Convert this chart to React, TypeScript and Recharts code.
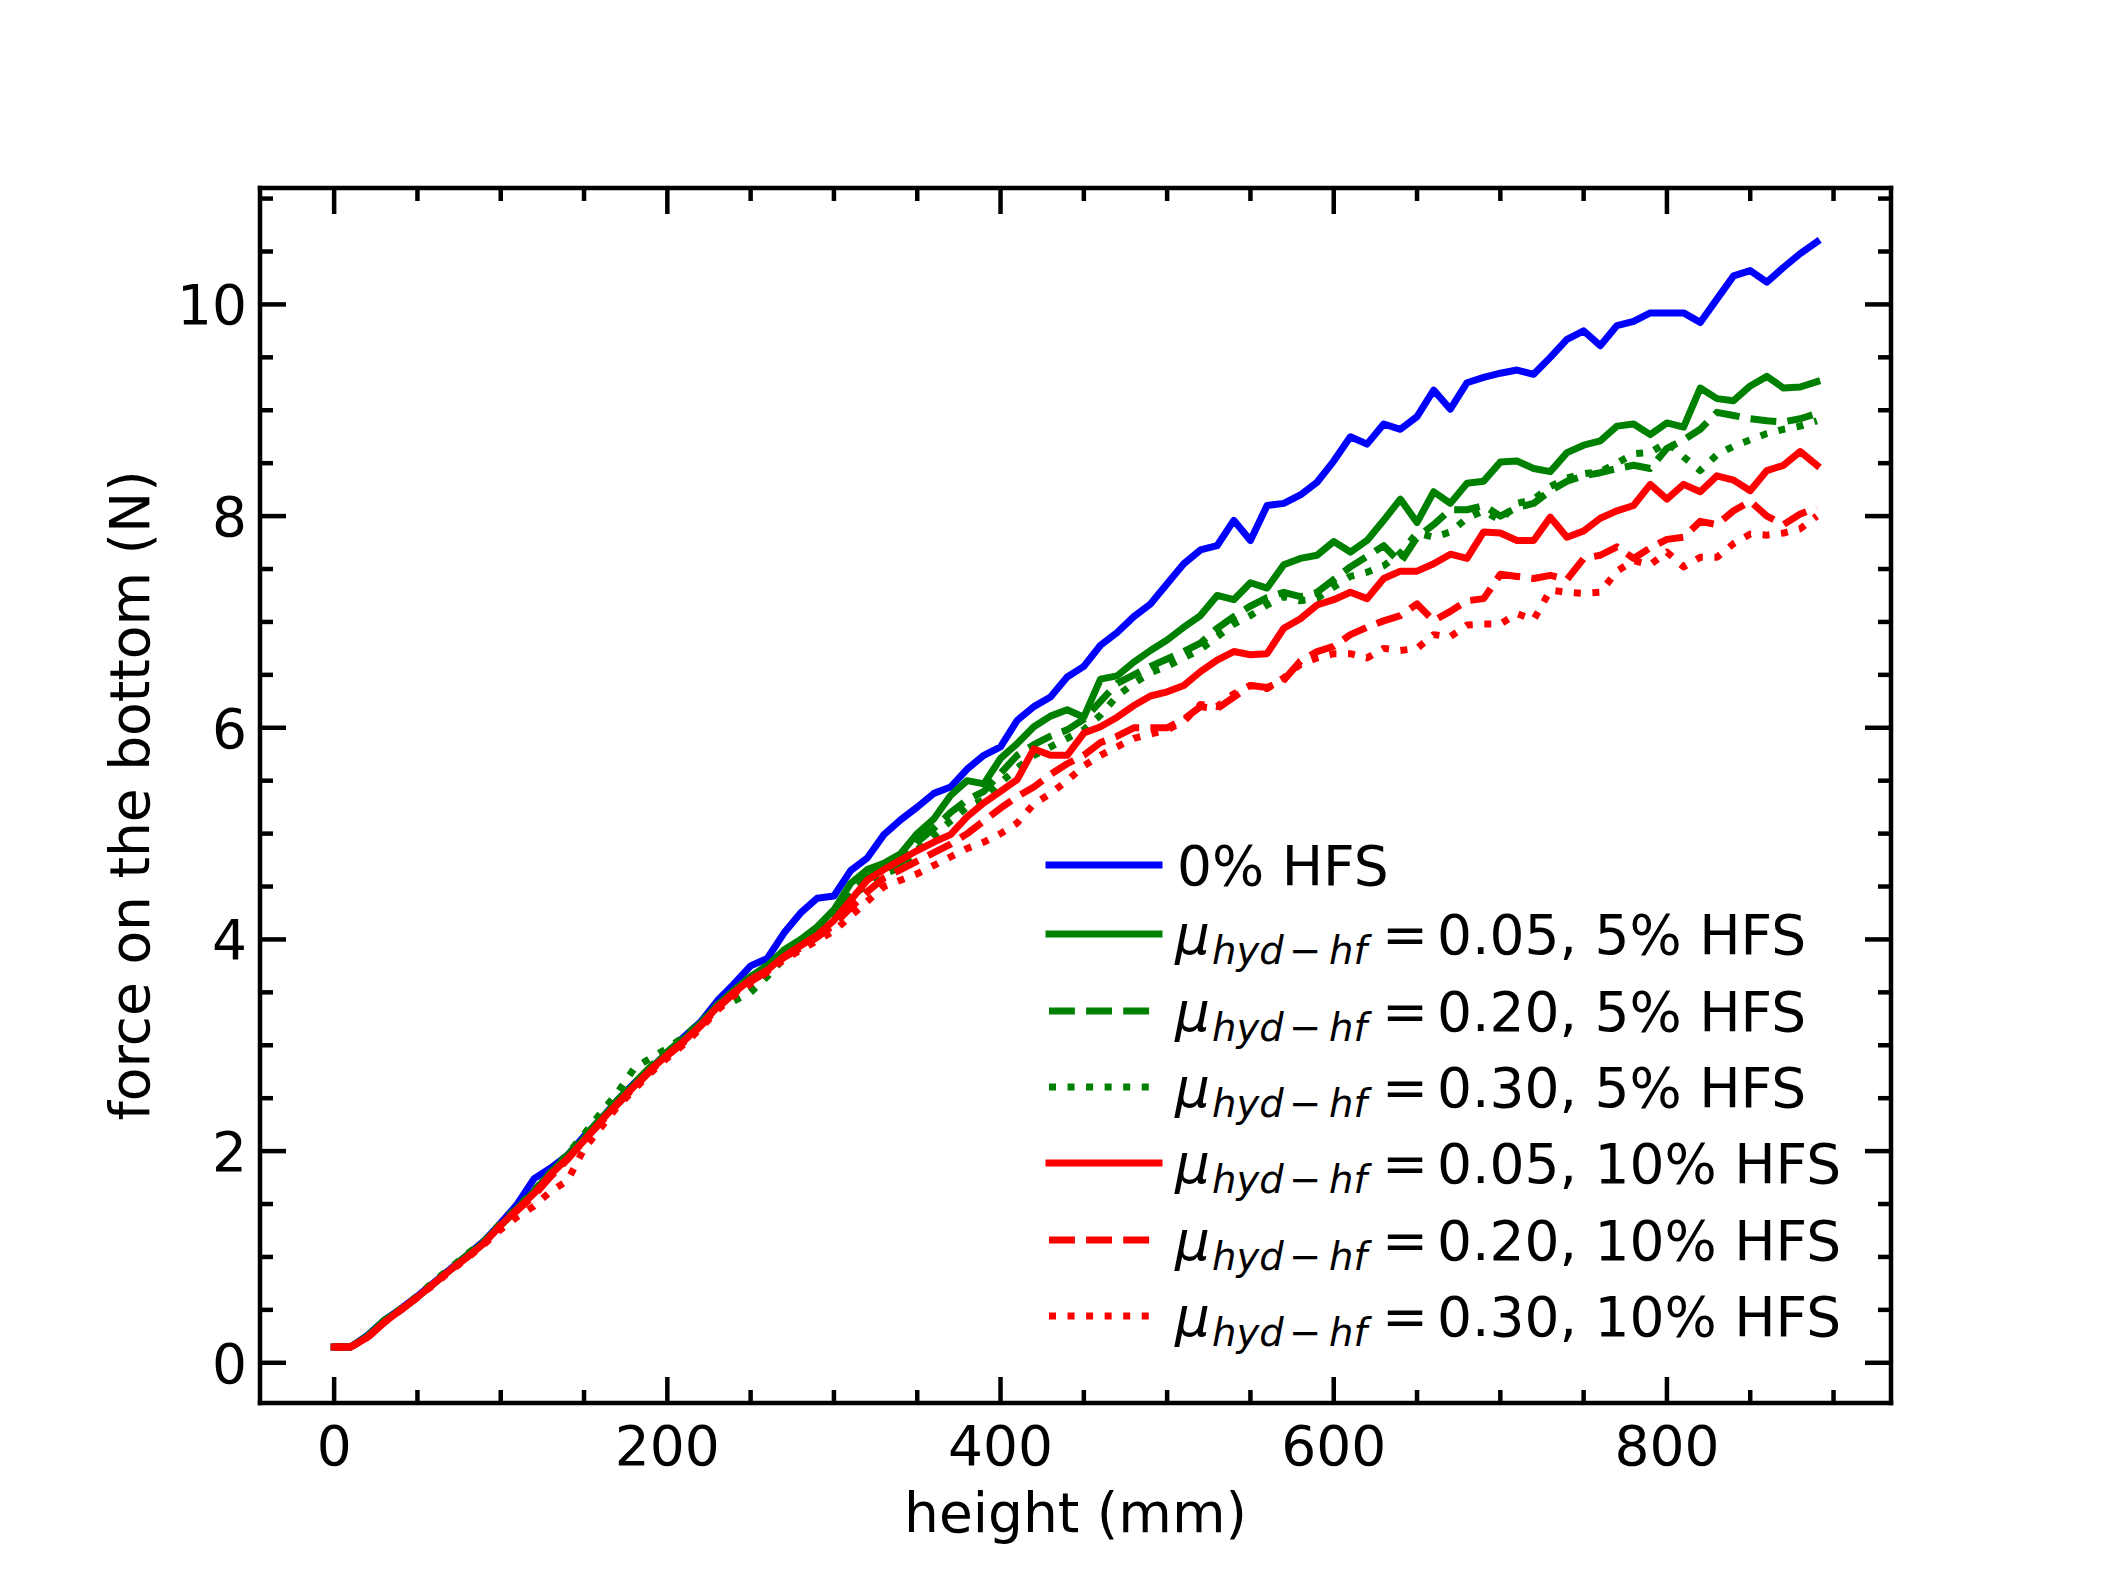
import { Legend, Line, LineChart, XAxis, YAxis } from "recharts";

const heights = [
  0, 10, 20, 30, 40, 50, 60, 70, 80, 90, 100, 110, 120, 130, 140, 150, 160, 170, 180, 190,
  200, 210, 220, 230, 240, 250, 260, 270, 280, 290, 300, 310, 320, 330, 340, 350, 360, 370, 380, 390,
  400, 410, 420, 430, 440, 450, 460, 470, 480, 490, 500, 510, 520, 530, 540, 550, 560, 570, 580, 590,
  600, 610, 620, 630, 640, 650, 660, 670, 680, 690, 700, 710, 720, 730, 740, 750, 760, 770, 780, 790,
  800, 810, 820, 830, 840, 850, 860, 870, 880, 890,
];

// 0% HFS
const hfs0 = [
  0.15, 0.15, 0.26, 0.4, 0.51, 0.63, 0.76, 0.89, 1.02, 1.15, 1.32, 1.5, 1.74, 1.84, 1.96, 2.14, 2.3, 2.48, 2.64, 2.78,
  2.93, 3.08, 3.22, 3.42, 3.58, 3.75, 3.82, 4.06, 4.25, 4.39, 4.41, 4.65, 4.77, 4.99, 5.13, 5.25, 5.38, 5.44, 5.61, 5.74,
  5.82, 6.07, 6.2, 6.29, 6.48, 6.58, 6.78, 6.9, 7.05, 7.17, 7.36, 7.55, 7.68, 7.72, 7.96, 7.77, 8.1, 8.12, 8.2, 8.32,
  8.52, 8.75, 8.68, 8.87, 8.82, 8.94, 9.19, 9.01, 9.26, 9.31, 9.35, 9.38, 9.34, 9.5, 9.67, 9.75, 9.61, 9.8, 9.84, 9.92,
  9.92, 9.92, 9.83, 10.05, 10.27, 10.32, 10.21, 10.35, 10.48, 10.59,
];

// mu = 0.05, 5% HFS
const mu005hfs5 = [
  0.15, 0.15, 0.25, 0.4, 0.5, 0.62, 0.75, 0.88, 1.01, 1.14, 1.3, 1.45, 1.62, 1.8, 1.95, 2.12, 2.3, 2.47, 2.63, 2.78,
  2.93, 3.06, 3.2, 3.38, 3.52, 3.65, 3.75, 3.9, 4.0, 4.12, 4.28, 4.53, 4.66, 4.72, 4.81, 5.0, 5.14, 5.36, 5.5, 5.47,
  5.71, 5.85, 6.01, 6.11, 6.17, 6.1, 6.46, 6.49, 6.62, 6.73, 6.83, 6.95, 7.06, 7.25, 7.21, 7.37, 7.32, 7.54, 7.6, 7.63,
  7.76, 7.66, 7.77, 7.96, 8.16, 7.94, 8.23, 8.12, 8.31, 8.33, 8.51, 8.52, 8.45, 8.42, 8.6, 8.67, 8.71, 8.85, 8.87, 8.77,
  8.88, 8.84, 9.21, 9.11, 9.09, 9.23, 9.32, 9.21, 9.22, 9.27,
];

// mu = 0.20, 5% HFS
const mu020hfs5 = [
  0.15, 0.15, 0.24, 0.39, 0.5, 0.62, 0.75, 0.89, 1.02, 1.14, 1.31, 1.46, 1.62, 1.79, 1.96, 2.13, 2.31, 2.48, 2.64, 2.8,
  2.94, 3.07, 3.21, 3.37, 3.5, 3.64, 3.76, 3.88, 3.99, 4.1, 4.25, 4.45, 4.58, 4.68, 4.72, 4.92, 5.05, 5.2, 5.32, 5.4,
  5.57, 5.74, 5.84, 5.92, 5.98, 6.08, 6.25, 6.42, 6.5, 6.58, 6.65, 6.72, 6.8, 6.94, 7.05, 7.15, 7.23, 7.28, 7.24, 7.28,
  7.4, 7.52, 7.62, 7.72, 7.56, 7.8, 7.92, 8.06, 8.06, 8.1, 8.0, 8.08, 8.12, 8.24, 8.33, 8.38, 8.41, 8.45, 8.48, 8.45,
  8.64, 8.72, 8.82, 8.98, 8.95, 8.92, 8.9, 8.89, 8.92, 8.97,
];

// mu = 0.30, 5% HFS
const mu030hfs5 = [
  0.15, 0.15, 0.25, 0.4, 0.51, 0.63, 0.77, 0.9, 1.03, 1.15, 1.32, 1.47, 1.63, 1.8, 1.97, 2.16, 2.36, 2.55, 2.78, 2.88,
  2.97, 3.08, 3.22, 3.36, 3.42, 3.5, 3.65, 3.82, 3.96, 4.07, 4.2, 4.4, 4.52, 4.62, 4.68, 4.85, 4.98, 5.12, 5.25, 5.32,
  5.48, 5.62, 5.74, 5.82, 5.9, 5.98, 6.12, 6.3, 6.42, 6.52, 6.58, 6.66, 6.74, 6.86, 6.98, 7.06, 7.16, 7.24, 7.2, 7.22,
  7.33, 7.43, 7.47, 7.53, 7.65, 7.84, 7.8, 7.85, 7.98, 8.05, 7.96, 8.12, 8.16, 8.28, 8.36, 8.4, 8.42, 8.5, 8.59, 8.6,
  8.7, 8.56, 8.43, 8.58, 8.66, 8.72, 8.78, 8.82, 8.85, 8.9,
];

// mu = 0.05, 10% HFS
const mu005hfs10 = [
  0.15, 0.15, 0.24, 0.38, 0.5, 0.62, 0.75, 0.88, 1.0, 1.13, 1.3, 1.45, 1.6, 1.78, 1.93, 2.1, 2.28, 2.45, 2.61, 2.77,
  2.91, 3.04, 3.19, 3.36, 3.5, 3.62, 3.71, 3.84, 3.94, 4.04, 4.18, 4.37, 4.56, 4.66, 4.75, 4.84, 4.92, 4.99, 5.16, 5.29,
  5.4, 5.51, 5.8, 5.74, 5.74, 5.95, 6.01, 6.1, 6.21, 6.3, 6.34, 6.4, 6.53, 6.64, 6.72, 6.69, 6.7, 6.94, 7.03, 7.16,
  7.21, 7.28, 7.22, 7.41, 7.48, 7.48, 7.55, 7.64, 7.6, 7.85, 7.84, 7.77, 7.77, 7.99, 7.8, 7.86, 7.98, 8.05, 8.1, 8.3,
  8.16, 8.3, 8.23, 8.38, 8.34, 8.24, 8.43, 8.48, 8.61, 8.48,
];

// mu = 0.20, 10% HFS
const mu020hfs10 = [
  0.15, 0.15, 0.24, 0.38, 0.5, 0.62, 0.75, 0.88, 1.0, 1.13, 1.3, 1.44, 1.58, 1.76, 1.92, 2.1, 2.27, 2.44, 2.6, 2.76,
  2.9, 3.03, 3.18, 3.35, 3.49, 3.6, 3.7, 3.83, 3.92, 4.02, 4.14, 4.3, 4.45, 4.58, 4.66, 4.74, 4.82, 4.9, 5.0, 5.12,
  5.24, 5.35, 5.44, 5.56, 5.66, 5.74, 5.86, 5.92, 6.0, 6.0, 6.0, 6.08, 6.2, 6.18, 6.29, 6.4, 6.38, 6.45, 6.63, 6.72,
  6.77, 6.88, 6.95, 7.01, 7.06, 7.17, 7.01, 7.1, 7.2, 7.22, 7.45, 7.43, 7.41, 7.44, 7.4, 7.6, 7.63, 7.71, 7.6, 7.7,
  7.78, 7.8, 7.95, 7.92, 8.05, 8.14, 8.0, 7.92, 8.02, 8.08,
];

// mu = 0.30, 10% HFS
const mu030hfs10 = [
  0.15, 0.15, 0.24, 0.38, 0.5, 0.62, 0.74, 0.87, 0.99, 1.12, 1.26, 1.38, 1.48, 1.62, 1.72, 2.02, 2.22, 2.42, 2.58, 2.74,
  2.88, 3.01, 3.16, 3.33, 3.47, 3.58, 3.69, 3.81, 3.9, 3.99, 4.08, 4.22, 4.36, 4.5, 4.56, 4.62, 4.7, 4.78, 4.86, 4.92,
  5.0, 5.1, 5.28, 5.38, 5.5, 5.64, 5.74, 5.82, 5.9, 5.94, 5.98, 6.06, 6.22, 6.2, 6.32, 6.4, 6.37, 6.47, 6.6, 6.66,
  6.7, 6.7, 6.66, 6.75, 6.73, 6.75, 6.88, 6.86, 6.97, 6.98, 6.98, 7.08, 7.02, 7.3, 7.28, 7.27, 7.28, 7.48, 7.58, 7.54,
  7.66, 7.52, 7.61, 7.61, 7.74, 7.83, 7.82, 7.84, 7.88, 8.0,
];

const xTicks = [0, 50, 100, 150, 200, 250, 300, 350, 400, 450, 500, 550, 600, 650, 700, 750, 800, 850, 900];
const yTicks = [0, 0.5, 1, 1.5, 2, 2.5, 3, 3.5, 4, 4.5, 5, 5.5, 6, 6.5, 7, 7.5, 8, 8.5, 9, 9.5, 10, 10.5, 11];

const series = [
  { key: "hfs0", values: hfs0, color: "#0000ff", style: "solid", mu: "", text: "0% HFS" },
  { key: "mu005hfs5", values: mu005hfs5, color: "#008000", style: "solid", mu: "0.05", text: "5% HFS" },
  { key: "mu020hfs5", values: mu020hfs5, color: "#008000", style: "dashed", mu: "0.20", text: "5% HFS" },
  { key: "mu030hfs5", values: mu030hfs5, color: "#008000", style: "dotted", mu: "0.30", text: "5% HFS" },
  { key: "mu005hfs10", values: mu005hfs10, color: "#ff0000", style: "solid", mu: "0.05", text: "10% HFS" },
  { key: "mu020hfs10", values: mu020hfs10, color: "#ff0000", style: "dashed", mu: "0.20", text: "10% HFS" },
  { key: "mu030hfs10", values: mu030hfs10, color: "#ff0000", style: "dotted", mu: "0.30", text: "10% HFS" },
];

const data = heights.map((h, i) => {
  const row: Record<string, number> = { h };
  series.forEach((s) => (row[s.key] = s.values[i]));
  return row;
});

const W = 2085;
const H = 1560;
const FONT = "DejaVu Sans";
const FS = 55;
const LW = 7;
const X_DOMAIN: [number, number] = [-44.5, 934.5];
const Y_DOMAIN: [number, number] = [-0.38, 11.1];
const dashes: Record<string, string | undefined> = { solid: undefined, dashed: "25.9 11.2", dotted: "7 11.55" };
const frame = { stroke: "#000", strokeWidth: 4.5, strokeLinecap: "square" as const };

const isMajorX = (v: number) => v % 200 === 0;
const isMajorY = (v: number) => Math.abs(v / 2 - Math.round(v / 2)) < 1e-6;

function XTick({ x, y, payload, side }: any) {
  const v = payload.value;
  const len = isMajorX(v) ? 26 : 13;
  const dir = side === "bottom" ? -1 : 1;
  return (
    <g>
      <line x1={x} x2={x} y1={y} y2={y + dir * len} stroke="#000" strokeWidth={4.5} />
      {side === "bottom" && isMajorX(v) && (
        <text x={x} y={y + 62} textAnchor="middle" fontFamily={FONT} fontSize={FS} fill="#000">
          {v}
        </text>
      )}
    </g>
  );
}

function YTick({ x, y, payload, side }: any) {
  const v = payload.value;
  const len = isMajorY(v) ? 26 : 13;
  const dir = side === "left" ? 1 : -1;
  return (
    <g>
      <line x1={x} x2={x + dir * len} y1={y} y2={y} stroke="#000" strokeWidth={4.5} />
      {side === "left" && isMajorY(v) && (
        <text x={x - 13} y={y + 20} textAnchor="end" fontFamily={FONT} fontSize={FS} fill="#000">
          {v}
        </text>
      )}
    </g>
  );
}

// legend rows: centre line of each entry, in chart pixels
const legendRowsY = [857, 926, 1003, 1079, 1155, 1232, 1308];

function LegendBox() {
  return (
    <svg width={W} height={H} style={{ position: "absolute", left: 0, top: 0, overflow: "visible" }}>
      {series.map((s, i) => {
        const cy = legendRowsY[i];
        const base = cy + 20;
        return (
          <g key={s.key}>
            <line
              x1={1041}
              x2={1151}
              y1={cy}
              y2={cy}
              stroke={s.color}
              strokeWidth={LW}
              strokeDasharray={dashes[s.style]}
              strokeLinecap={s.style === "solid" ? "square" : "butt"}
            />
            {s.mu ? (
              <g fontFamily={FONT} fill="#000">
                <text x={1167} y={base} fontSize={FS} fontStyle="italic">μ</text>
                <text x={1204} y={base + 10} fontSize={38.5} fontStyle="italic">hyd</text>
                <text x={1281} y={base + 10} fontSize={38.5}>−</text>
                <text x={1321} y={base + 10} fontSize={38.5} fontStyle="italic">hf</text>
                <text x={1374} y={base} fontSize={FS}>=</text>
                <text x={1429} y={base} fontSize={FS}>{`${s.mu}, ${s.text}`}</text>
              </g>
            ) : (
              <text x={1169} y={base} fontFamily={FONT} fontSize={FS} fill="#000">
                {s.text}
              </text>
            )}
          </g>
        );
      })}
    </svg>
  );
}

export default function App() {
  return (
    <div style={{ width: W, height: H, background: "#fff" }}>
      <LineChart width={W} height={H} data={data} margin={{ top: 179, right: 201, bottom: 0, left: 0 }}>
        <XAxis
          xAxisId="b"
          dataKey="h"
          type="number"
          domain={X_DOMAIN}
          ticks={xTicks}
          interval={0}
          height={165}
          tickSize={0}
          tickMargin={0}
          tickLine={false}
          axisLine={frame}
          tick={(p: any) => <XTick {...p} side="bottom" />}
          label={({ viewBox }: any) => (
            <text x={viewBox.x + viewBox.width / 2} y={viewBox.y + 129} textAnchor="middle" fontFamily={FONT} fontSize={FS} fill="#000">
              height (mm)
            </text>
          )}
        />
        <XAxis
          xAxisId="t"
          orientation="top"
          dataKey="h"
          type="number"
          domain={X_DOMAIN}
          ticks={xTicks}
          interval={0}
          height={1}
          tickSize={0}
          tickMargin={0}
          tickLine={false}
          axisLine={frame}
          tick={(p: any) => <XTick {...p} side="top" />}
        />
        <YAxis
          yAxisId="l"
          type="number"
          domain={Y_DOMAIN}
          ticks={yTicks}
          interval={0}
          width={252}
          tickSize={0}
          tickMargin={0}
          tickLine={false}
          axisLine={frame}
          tick={(p: any) => <YTick {...p} side="left" />}
          label={({ viewBox }: any) => {
            const cx = 141;
            const cy = viewBox.y + viewBox.height / 2;
            return (
              <text x={cx} y={cy} transform={`rotate(-90 ${cx} ${cy})`} textAnchor="middle" fontFamily={FONT} fontSize={FS} fill="#000">
                force on the bottom (N)
              </text>
            );
          }}
        />
        <YAxis
          yAxisId="r"
          orientation="right"
          type="number"
          domain={Y_DOMAIN}
          ticks={yTicks}
          interval={0}
          width={1}
          tickSize={0}
          tickMargin={0}
          tickLine={false}
          axisLine={frame}
          tick={(p: any) => <YTick {...p} side="right" />}
        />
        {/* invisible series so the top and right frame axes get drawn */}
        <Line
          xAxisId="t"
          yAxisId="r"
          dataKey="hfs0"
          stroke="none"
          strokeWidth={0}
          dot={false}
          activeDot={false}
          legendType="none"
          isAnimationActive={false}
        />
        {series.map((s) => (
          <Line
            key={s.key}
            xAxisId="b"
            yAxisId="l"
            dataKey={s.key}
            type="linear"
            stroke={s.color}
            strokeWidth={LW}
            strokeDasharray={dashes[s.style]}
            strokeLinejoin="round"
            strokeLinecap={s.style === "solid" ? "square" : "butt"}
            dot={false}
            activeDot={false}
            isAnimationActive={false}
          />
        ))}
        <Legend
          layout="vertical"
          align="center"
          verticalAlign="middle"
          wrapperStyle={{ left: 0, top: 0, width: W, height: H, pointerEvents: "none" }}
          content={() => <LegendBox />}
        />
      </LineChart>
    </div>
  );
}
